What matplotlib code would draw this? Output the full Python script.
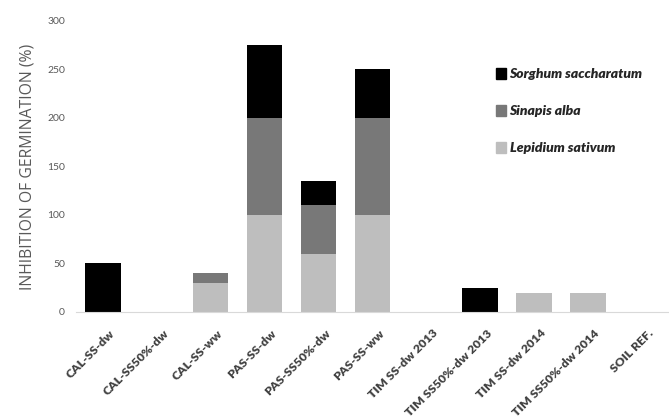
import numpy as np
import matplotlib.pyplot as plt
import matplotlib.transforms as mtrans
from matplotlib.patches import Patch

categories = ["CAL-SS-dw", "CAL-SS50%-dw", "CAL-SS-ww", "PAS-SS-dw", "PAS-SS50%-dw",
              "PAS-SS-ww", "TIM SS-dw 2013", "TIM SS50%-dw 2013", "TIM SS-dw 2014",
              "TIM SS50%-dw 2014", "SOIL REF."]
lepidium = [0, 0, 30, 100, 60, 100, 0, 0, 20, 20, 0]
sinapis = [0, 0, 10, 100, 50, 100, 0, 0, 0, 0, 0]
sorghum = [50, 0, 0, 75, 25, 50, 0, 25, 0, 0, 0]

c_sorg, c_sin, c_lep = "#000000", "#787878", "#bebebe"

plt.rcParams['font.family'] = ['Lato', 'DejaVu Sans']

fig = plt.figure(figsize=(6.69, 4.19), dpi=100)
ax = fig.add_axes([0.1136, 0.2554, 0.886, 0.6945])

x = np.arange(len(categories))
w = 0.66
lep = np.array(lepidium)
sin_ = np.array(sinapis)
sor = np.array(sorghum)
ax.bar(x, lep, w, color=c_lep)
ax.bar(x, sin_, w, bottom=lep, color=c_sin)
ax.bar(x, sor, w, bottom=lep + sin_, color=c_sorg)

ax.set_xlim(-0.5, len(categories) - 0.5)
ax.set_ylim(0, 300)
ax.set_yticks(range(0, 301, 50))
ax.tick_params(axis='y', length=0, labelsize=7.5, colors='#595959', pad=8)
ax.tick_params(axis='x', length=0, pad=4)
ax.set_xticks(x)
ax.set_xticklabels(categories, rotation=45, ha='right', rotation_mode='anchor',
                   fontsize=8.8, fontweight='heavy', color='#404040')
# nudge the rotated labels like excel does
off = mtrans.ScaledTranslation(6 / 100, -10 / 100, fig.dpi_scale_trans)
for lab in ax.get_xticklabels():
    lab.set_transform(lab.get_transform() + off)
for s in ['top', 'right', 'left']:
    ax.spines[s].set_visible(False)
ax.spines['bottom'].set_color('#d9d9d9')
ax.set_ylabel("INHIBITION OF GERMINATION (%)", fontsize=11.3, color='#595959',
              labelpad=8, family=['Open Sans', 'DejaVu Sans'])

handles = [Patch(color=c_sorg), Patch(color=c_sin), Patch(color=c_lep)]
labels = ["Sorghum saccharatum", "Sinapis alba", "Lepidium sativum"]
leg = ax.legend(handles, labels, loc='upper left', bbox_to_anchor=(0.687, 0.88),
                frameon=False, handlelength=0.75, handleheight=0.75, handletextpad=0.25,
                labelspacing=1.8, prop={'size': 10, 'weight': 'heavy', 'style': 'italic'})
for t in leg.get_texts():
    t.set_color('#262626')

fig.savefig("out.png", dpi=100)
